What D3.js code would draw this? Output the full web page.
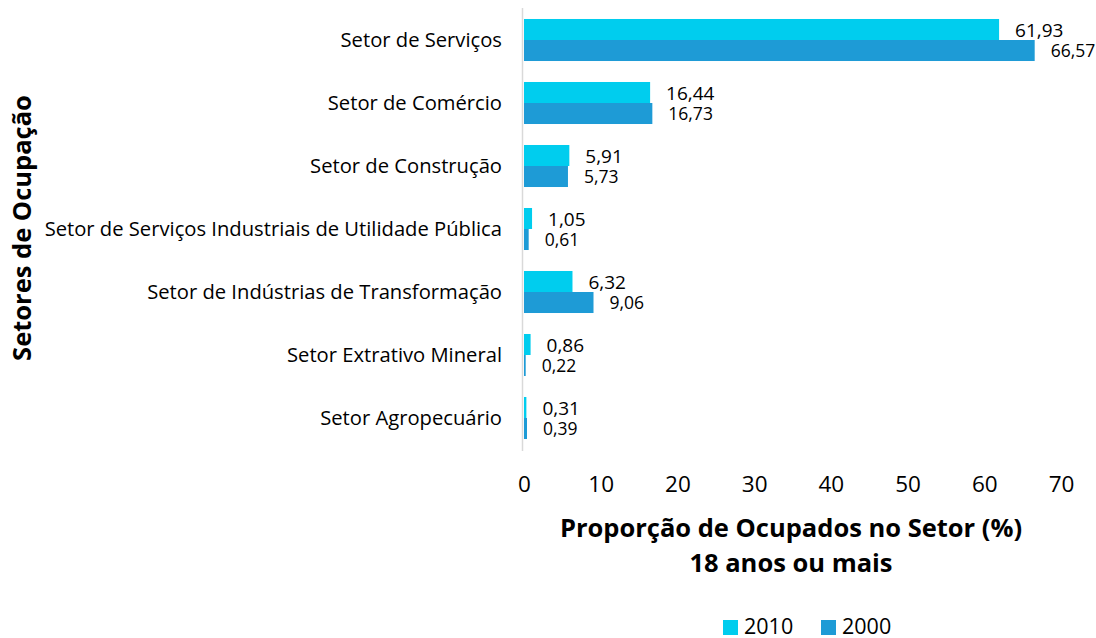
<!DOCTYPE html>
<html><head><meta charset="utf-8">
<script src="https://cdn.jsdelivr.net/npm/d3@7"></script>
<style>
body{margin:0;background:#fff;}
text{font-family:"Open Sans","Noto Sans",sans-serif;fill:#000;}
</style></head>
<body><svg id="c" width="1096" height="638"></svg>
<script>
const categories = ["Setor de Serviços","Setor de Comércio","Setor de Construção","Setor de Serviços Industriais de Utilidade Pública","Setor de Indústrias de Transformação","Setor Extrativo Mineral","Setor Agropecuário"];
const values2010 = [61.93,16.44,5.91,1.05,6.32,0.86,0.31];
const values2000 = [66.57,16.73,5.73,0.61,9.06,0.22,0.39];
const seriesNames = ["2010","2000"];
const xTicks = [0,10,20,30,40,50,60,70];
const colors = {"2010":"#00CDEE","2000":"#1E9BD6"};

const svg = d3.select("#c");
const x = d3.scaleLinear().domain([0,70]).range([524,1061]);
const y = d3.scaleBand().domain(categories).range([8.5,449.5]).paddingInner(0.333).paddingOuter(0.1665);
const ys = d3.scaleBand().domain(seriesNames).range([0,y.bandwidth()]);

const data = categories.map((c,i)=>({cat:c, vals:[{s:"2010",v:values2010[i]},{s:"2000",v:values2000[i]}]}));

// axis line
svg.append("line").attr("x1",522.5).attr("x2",522.5).attr("y1",8).attr("y2",451).attr("stroke","#d9d9d9").attr("stroke-width",1.5);

const g = svg.selectAll("g.cat").data(data).join("g").attr("transform",d=>`translate(0,${y(d.cat)})`);
g.selectAll("rect").data(d=>d.vals).join("rect")
  .attr("x",x(0)).attr("y",d=>ys(d.s)).attr("width",d=>Math.max(1,x(d.v)-x(0))).attr("height",ys.bandwidth())
  .attr("fill",d=>colors[d.s]);
g.selectAll("text.val").data(d=>d.vals).join("text").attr("class","val")
  .attr("x",d=>x(d.v)+16).attr("y",d=>ys(d.s)+ys.bandwidth()/2+(d.s==="2010"?2:2))
  .attr("dominant-baseline","middle")
  .attr("font-size",d=>d.s==="2010"?19:17.5)
  .text(d=>d.v.toFixed(2).replace(".",","));

// category labels
svg.selectAll("text.cat").data(categories).join("text").attr("class","cat")
  .attr("x",502).attr("y",d=>y(d)+y.bandwidth()/2+2).attr("text-anchor","end")
  .attr("dominant-baseline","middle").attr("font-size",20.2).text(d=>d);

// x ticks
const xa = svg.append("g").attr("transform","translate(0,472)")
  .call(d3.axisBottom(x).tickValues(xTicks).tickSize(0).tickPadding(4).tickFormat(d3.format("d")));
xa.select(".domain").remove();
xa.selectAll("text").attr("font-size",22.5).attr("font-family","'Open Sans',sans-serif").attr("fill","#000");

// axis titles
svg.append("text").attr("x",791).attr("y",537).attr("text-anchor","middle").attr("font-size",25.5).attr("font-weight","bold").text("Proporção de Ocupados no Setor (%)");
svg.append("text").attr("x",791).attr("y",572).attr("text-anchor","middle").attr("font-size",25.5).attr("font-weight","bold").text("18 anos ou mais");
svg.append("text").attr("transform","translate(31,228) rotate(-90)").attr("text-anchor","middle").attr("font-size",25.5).attr("font-weight","bold").text("Setores de Ocupação");

// legend
const lg = svg.selectAll("g.leg").data(seriesNames).join("g").attr("class","leg")
  .attr("transform",(d,i)=>`translate(${723+i*98},620)`);
lg.append("rect").attr("width",15).attr("height",15).attr("fill",d=>colors[d]);
lg.append("text").attr("x",21).attr("y",8).attr("dominant-baseline","middle").attr("font-size",21.5).text(d=>d);
</script></body></html>
